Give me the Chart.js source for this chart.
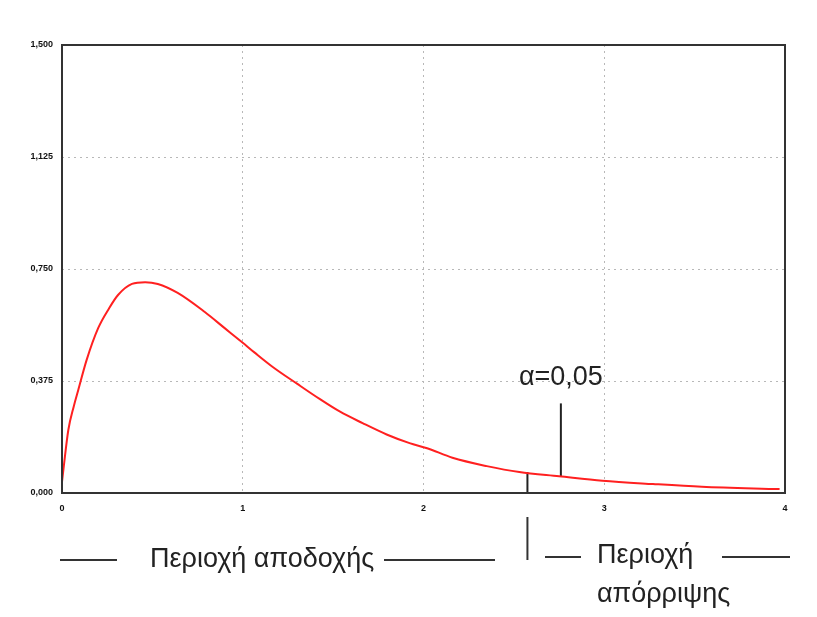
<!DOCTYPE html>
<html lang="el">
<head>
<meta charset="UTF-8">
<title>Κατανομή F</title>
<script src="https://cdn.jsdelivr.net/npm/chart.js"></script>
<style>
    html, body { margin: 0; padding: 0; background: #fff; }
    .graph { position: relative; width: 817px; height: 617px; }
</style>
</head>
<body>
<div class="graph">
    <canvas id="myChart"></canvas>
</div>

<script>
// valores
const curvaX = [0, 0.01, 0.035, 0.065, 0.09, 0.136, 0.20, 0.26, 0.31, 0.387, 0.46, 0.53, 0.64, 0.79, 0.90, 1.0, 1.066, 1.166, 1.30, 1.425, 1.536, 1.663, 1.796, 1.923, 2.02, 2.16, 2.35, 2.53, 2.75, 2.99, 3.27, 3.54, 3.97];
const curvaY = [0.037, 0.09, 0.211, 0.29, 0.345, 0.445, 0.552, 0.618, 0.663, 0.700, 0.706, 0.70, 0.67, 0.606, 0.552, 0.503, 0.47, 0.422, 0.366, 0.315, 0.273, 0.234, 0.196, 0.167, 0.150, 0.118, 0.09, 0.07, 0.056, 0.041, 0.03, 0.021, 0.013];

const xTicks = ['0', '1', '2', '3', '4'];
const yTicks = ['0,000', '0,375', '0,750', '1,125', '1,500'];

// linha que separa as regiões e linha do alfa
const limiteX = [2.575, 2.575];
const limiteY = [0, 0.07];
const alfaX = [2.76, 2.76];
const alfaY = [0.055, 0.30];
const alfaTexto = 'α=0,05';
const alfaPos = [2.76, 0.385];

const aceitacao = 'Περιοχή αποδοχής';
const rejeicao = ['Περιοχή', 'απόρριψης'];

function pontos(xs, ys) {
    return xs.map((x, i) => ({ x: x, y: ys[i] }));
}

// desenha moldura, textos e linhas fora do gráfico
const extras = {
    id: 'extras',
    afterDatasetsDraw(chart) {
        const ctx = chart.ctx;
        const a = chart.chartArea;
        const sx = chart.scales.x;
        const sy = chart.scales.y;
        ctx.save();
        ctx.strokeStyle = '#333';
        ctx.lineWidth = 2;
        ctx.strokeRect(a.left, a.top, a.right - a.left, a.bottom - a.top);

        ctx.fillStyle = '#222';
        ctx.font = '27px "Liberation Sans", Arial, sans-serif';
        ctx.textAlign = 'center';
        ctx.textBaseline = 'middle';
        ctx.fillText(alfaTexto, sx.getPixelForValue(alfaPos[0]), sy.getPixelForValue(alfaPos[1]));

        // parte de baixo
        const xLim = sx.getPixelForValue(limiteX[0]);
        ctx.beginPath();
        ctx.moveTo(xLim, a.bottom + 24); ctx.lineTo(xLim, a.bottom + 67);
        ctx.moveTo(60, 560); ctx.lineTo(117, 560);
        ctx.moveTo(384, 560); ctx.lineTo(495, 560);
        ctx.moveTo(545, 557); ctx.lineTo(581, 557);
        ctx.moveTo(722, 557); ctx.lineTo(790, 557);
        ctx.stroke();

        ctx.font = '27px "Liberation Sans", Arial, sans-serif';
        ctx.textAlign = 'left';
        ctx.fillText(aceitacao, 150, 560);
        ctx.fillText(rejeicao[0], 597, 556);
        ctx.fillText(rejeicao[1], 597, 595);
        ctx.restore();
    }
};

const fonteTick = { size: 9, weight: 'bold', family: 'Arial, "Liberation Sans", sans-serif' };
const corGrade = ctx => (ctx.tick && (ctx.index === 0 || ctx.index === 4)) ? 'rgba(0,0,0,0)' : '#b8b8b8';

new Chart(document.getElementById('myChart'), {
    type: 'line',
    data: {
        datasets: [
            {
                data: pontos(curvaX, curvaY),
                borderColor: '#ff2020',
                borderWidth: 2,
                pointRadius: 0,
                cubicInterpolationMode: 'monotone',
                fill: false
            },
            {
                data: pontos(limiteX, limiteY),
                borderColor: '#222',
                borderWidth: 2,
                pointRadius: 0
            },
            {
                data: pontos(alfaX, alfaY),
                borderColor: '#222',
                borderWidth: 2,
                pointRadius: 0
            }
        ]
    },
    options: {
        responsive: true,
        maintainAspectRatio: false,
        animation: false,
        layout: { padding: { left: 12, right: 32, top: 45, bottom: 100 } },
        plugins: {
            legend: { display: false },
            tooltip: { enabled: false }
        },
        scales: {
            x: {
                type: 'linear',
                min: 0,
                max: 4,
                afterFit: s => { s.height = 24; },
                ticks: {
                    stepSize: 1,
                    color: '#111',
                    font: fonteTick,
                    padding: 10,
                    maxRotation: 0,
                    callback: (v, i) => xTicks[i]
                },
                grid: { color: corGrade, lineWidth: 1, drawTicks: false },
                border: { display: false, dash: [2, 4] }
            },
            y: {
                min: 0,
                max: 1.5,
                afterFit: s => { s.width = 50; },
                ticks: {
                    stepSize: 0.375,
                    color: '#111',
                    font: fonteTick,
                    padding: 9,
                    callback: (v, i) => yTicks[i]
                },
                grid: { color: corGrade, lineWidth: 1, drawTicks: false },
                border: { display: false, dash: [2, 4] }
            }
        }
    },
    plugins: [extras]
});
</script>
</body>
</html>
